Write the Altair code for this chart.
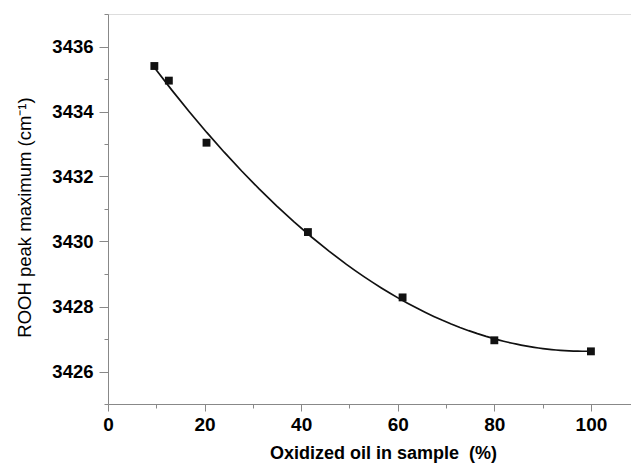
import altair as alt
import pandas as pd

# Data
oxidized_pct = [9.6, 12.6, 20.4, 41.4, 61.0, 80.0, 100.0]
rooh_peak = [3435.40, 3434.95, 3433.04, 3430.29, 3428.28, 3426.96, 3426.62]

x_ticks = [0, 10, 20, 30, 40, 50, 60, 70, 80, 90, 100]
y_ticks = [3425, 3426, 3427, 3428, 3429, 3430, 3431, 3432, 3433, 3434, 3435, 3436, 3437]

df = pd.DataFrame({"x": oxidized_pct, "y": rooh_peak})

FONT = "Liberation Sans"

x_axis = alt.Axis(
    values=x_ticks,
    format="d",
    labelExpr="datum.value % 20 === 0 ? datum.label : ''",
    tickSize={"condition": {"test": "datum.value % 20 === 0", "value": 7}, "value": 4},
    title="Oxidized oil in sample\u00a0 (%)",
    titleFontWeight="bold",
    titleFontSize=18,
    titlePadding=10,
    titleX=275,
    labelFontSize=19,
    labelFontWeight="bold",
    labelPadding=4,
    labelFlush=False,
    labelOverlap=False,
    grid=False,
)
y_axis = alt.Axis(
    values=y_ticks,
    format="d",
    labelExpr="datum.value % 2 === 0 ? datum.label : ''",
    tickSize={"condition": {"test": "datum.value % 2 === 0", "value": 9}, "value": 4},
    title="ROOH peak maximum (cm⁻¹)",
    titleFontWeight="normal",
    titleFontSize=18.5,
    titlePadding=17,
    titleY=203,
    labelFontSize=18.5,
    labelFontWeight="bold",
    labelPadding=6,
    labelFlush=False,
    labelOverlap=False,
    grid=False,
)

x_enc = alt.X("x:Q", scale=alt.Scale(domain=[0, 108.3], nice=False, zero=False), axis=x_axis)
y_enc = alt.Y("y:Q", scale=alt.Scale(domain=[3425, 3437], nice=False, zero=False), axis=y_axis)

base = alt.Chart(df)

points = base.mark_point(shape="square", filled=True, size=62, color="#111111", opacity=1).encode(
    x=x_enc, y=y_enc
)

fit = base.transform_regression("x", "y", method="poly", order=2).mark_line(
    color="#111111", strokeWidth=1.7
).encode(x=x_enc, y=y_enc)

chart = (
    alt.layer(fit, points)
    .properties(
        width=523,
        height=390,
        autosize=alt.AutoSizeParams(type="none"),
        padding={"left": 100, "top": 6, "right": 0, "bottom": 62},
    )
    .configure_view(stroke=None)
    .configure_axis(
        domainColor="#111111",
        domainWidth=1.8,
        tickColor="#111111",
        tickWidth=1.8,
        labelColor="#111111",
        titleColor="#111111",
        labelFont=FONT,
        titleFont=FONT,
    )
    .configure(background="white")
)

chart.save("out.html", embed_options={"renderer": "svg", "actions": False})
